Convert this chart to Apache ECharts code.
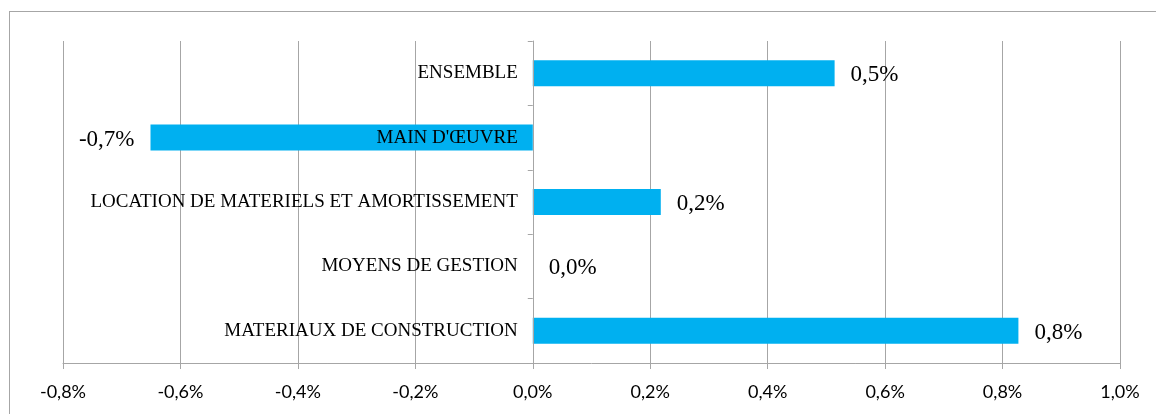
<!DOCTYPE html>
<html>
<head>
<meta charset="utf-8">
<script src="https://cdn.jsdelivr.net/npm/echarts@6/dist/echarts.min.js"></script>
<style>
  html, body { margin: 0; padding: 0; background: #fff; }
  #frame { position: absolute; left: 9px; top: 11px; width: 1200px; height: 460px; border: 1px solid #a6a6a6; box-sizing: border-box; }
  #chart { position: absolute; left: 0; top: 0; width: 1156px; height: 414px; }
</style>
</head>
<body>
<div id="frame"></div>
<div id="chart"></div>
<script>
// catégories (de bas en haut)
const categories = ['MATERIAUX DE CONSTRUCTION', 'MOYENS DE GESTION', 'LOCATION DE MATERIELS ET AMORTISSEMENT', "MAIN D'ŒUVRE", 'ENSEMBLE']
// variations en %
const values = [0.827, 0.0, 0.218, -0.651, 0.514]

const fmt = v => v.toFixed(1).replace('.', ',') + '%'
const gridLeft = 63

const chart = echarts.init(document.getElementById('chart'))
chart.setOption({
    animation: false,
    grid: { left: gridLeft, right: 36, top: 41, bottom: 51, containLabel: false, outerBoundsMode: 'none' },
    xAxis: {
        type: 'value',
        min: -0.8,
        max: 1.0,
        interval: 0.2,
        axisLine: { show: true, lineStyle: { color: '#a6a6a6', width: 1 } },
        axisTick: { show: true, length: 6, lineStyle: { color: '#a6a6a6' } },
        splitLine: { show: true, lineStyle: { color: '#a6a6a6', width: 1 } },
        axisLabel: {
            color: '#000',
            fontFamily: 'Lato',
            fontSize: 18,
            margin: 20,
            formatter: v => v.toFixed(1).replace('.', ',') + '%'
        }
    },
    yAxis: {
        type: 'category',
        data: categories,
        axisLine: { show: true, onZero: false, lineStyle: { color: '#a6a6a6', width: 1 } },
        axisTick: { show: true, length: 5, lineStyle: { color: '#a6a6a6' } },
        axisLabel: {
            color: '#000',
            fontFamily: 'Liberation Serif',
            fontSize: 19,
            margin: 15
        },
        z: 10
    },
    series: [{
        type: 'bar',
        data: values.map(v => ({
            value: v,
            label: { position: v < 0 ? 'left' : 'right' }
        })),
        barWidth: 26,
        itemStyle: { color: '#00b0f0' },
        label: {
            show: true,
            distance: 16,
            offset: [0, 2],
            color: '#000',
            fontFamily: 'Liberation Serif',
            fontSize: 23,
            formatter: p => fmt(p.value)
        }
    }]
})

// l'axe des catégories passe par 0 : on le décale avec ses libellés
const x0 = chart.convertToPixel({ xAxisIndex: 0 }, 0)
chart.setOption({ yAxis: { offset: gridLeft - x0 } })
</script>
</body>
</html>
